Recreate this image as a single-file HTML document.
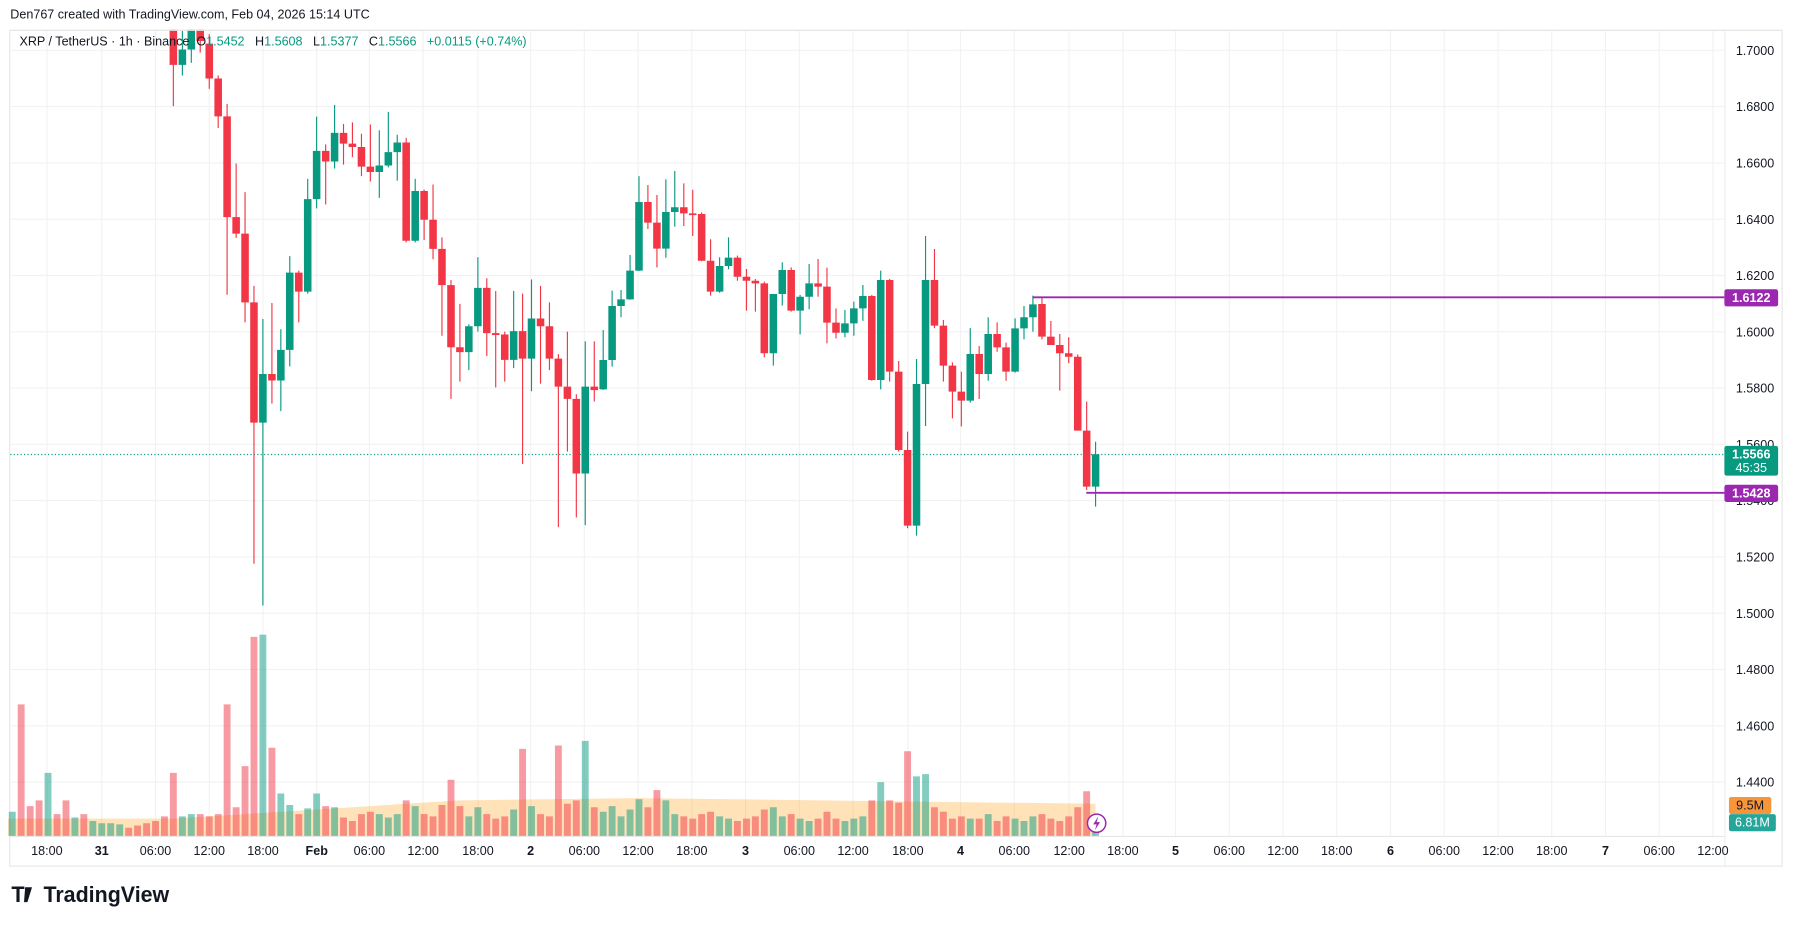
<!DOCTYPE html>
<html><head><meta charset="utf-8"><style>
html,body{margin:0;padding:0;background:#fff;}
svg{display:block;}
text{font-family:"Liberation Sans",sans-serif;}
</style></head><body>
<svg width="1793" height="925" viewBox="0 0 1568 809" preserveAspectRatio="none" xmlns="http://www.w3.org/2000/svg">
<rect x="0" y="0" width="1568" height="809" fill="#fff"/>
<rect x="8.5" y="26.5" width="1550" height="731" fill="none" stroke="#e6e6e6"/>
<g stroke="#f2f2f2">
<path d="M41,27V731M89,27V731M136,27V731M183,27V731M230,27V731M277,27V731M323,27V731M370,27V731M418,27V731M464,27V731M511,27V731M558,27V731M605,27V731M652,27V731M699,27V731M746,27V731M794,27V731M840,27V731M887,27V731M935,27V731M982,27V731M1028,27V731M1075,27V731M1122,27V731M1169,27V731M1216,27V731M1263,27V731M1310,27V731M1357,27V731M1404,27V731M1451,27V731M1498,27V731"/>
<path d="M9,44H1508M9,93.2H1508M9,142.5H1508M9,191.7H1508M9,240.9H1508M9,290.2H1508M9,339.4H1508M9,388.6H1508M9,437.8H1508M9,487.1H1508M9,536.3H1508M9,585.5H1508M9,634.8H1508M9,684H1508"/>
</g>
<line x1="1508.5" y1="27" x2="1508.5" y2="757" stroke="#eeeeee"/>
<g font-size="11" fill="#131722">
<text x="1518" y="48">1.7000</text><text x="1518" y="97.2">1.6800</text><text x="1518" y="146.5">1.6600</text><text x="1518" y="195.7">1.6400</text><text x="1518" y="244.9">1.6200</text><text x="1518" y="294.2">1.6000</text><text x="1518" y="343.4">1.5800</text><text x="1518" y="392.6">1.5600</text><text x="1518" y="441.8">1.5400</text><text x="1518" y="491.1">1.5200</text><text x="1518" y="540.3">1.5000</text><text x="1518" y="589.5">1.4800</text><text x="1518" y="638.8">1.4600</text><text x="1518" y="688">1.4400</text>
</g>
<g font-size="11" fill="#131722" text-anchor="middle">
<text x="41" y="748">18:00</text><text x="89" y="748" font-weight="bold">31</text><text x="136" y="748">06:00</text><text x="183" y="748">12:00</text><text x="230" y="748">18:00</text><text x="277" y="748" font-weight="bold">Feb</text><text x="323" y="748">06:00</text><text x="370" y="748">12:00</text><text x="418" y="748">18:00</text><text x="464" y="748" font-weight="bold">2</text><text x="511" y="748">06:00</text><text x="558" y="748">12:00</text><text x="605" y="748">18:00</text><text x="652" y="748" font-weight="bold">3</text><text x="699" y="748">06:00</text><text x="746" y="748">12:00</text><text x="794" y="748">18:00</text><text x="840" y="748" font-weight="bold">4</text><text x="887" y="748">06:00</text><text x="935" y="748">12:00</text><text x="982" y="748">18:00</text><text x="1028" y="748" font-weight="bold">5</text><text x="1075" y="748">06:00</text><text x="1122" y="748">12:00</text><text x="1169" y="748">18:00</text><text x="1216" y="748" font-weight="bold">6</text><text x="1263" y="748">06:00</text><text x="1310" y="748">12:00</text><text x="1357" y="748">18:00</text><text x="1404" y="748" font-weight="bold">7</text><text x="1451" y="748">06:00</text><text x="1498" y="748">12:00</text>
</g>
<line x1="9" y1="731.5" x2="1508" y2="731.5" stroke="#e6e6e6"/>
<!-- volume MA -->
<path d="M7,731V716L151.6,716L402,700L558,698L958,703V731Z" fill="rgba(255,152,0,0.28)"/>
<!-- volume bars -->
<path fill="#089981" fill-opacity="0.5" d="M7.7,710h6V731h-6zM39,676h6V731h-6zM62.5,715h6V731h-6zM78.2,718h6V731h-6zM86,720h6V731h-6zM93.8,720h6V731h-6zM101.7,721h6V731h-6zM156.5,714h6V731h-6zM164.3,712h6V731h-6zM226.9,555h6V731h-6zM242.6,694h6V731h-6zM250.4,704h6V731h-6zM266.1,707h6V731h-6zM273.9,694h6V731h-6zM289.6,706h6V731h-6zM328.7,712h6V731h-6zM336.6,715h6V731h-6zM344.4,712h6V731h-6zM360.1,705h6V731h-6zM407,714h6V731h-6zM414.9,706h6V731h-6zM446.2,708h6V731h-6zM461.8,705h6V731h-6zM508.8,648h6V731h-6zM524.5,710h6V731h-6zM532.3,705h6V731h-6zM540.1,714h6V731h-6zM548,708h6V731h-6zM555.8,699h6V731h-6zM579.3,700h6V731h-6zM587.1,712h6V731h-6zM626.3,714h6V731h-6zM634.1,716h6V731h-6zM673.3,706h6V731h-6zM681.1,714h6V731h-6zM696.7,716h6V731h-6zM704.6,718h6V731h-6zM735.9,718h6V731h-6zM743.7,716h6V731h-6zM751.6,714h6V731h-6zM767.2,684h6V731h-6zM798.5,679h6V731h-6zM806.4,677h6V731h-6zM845.5,716h6V731h-6zM861.2,712h6V731h-6zM884.7,716h6V731h-6zM892.5,718h6V731h-6zM900.3,714h6V731h-6zM955.1,714h6V731h-6z"/>
<path fill="#f23645" fill-opacity="0.5" d="M15.5,616h6V731h-6zM23.4,705h6V731h-6zM31.2,700h6V731h-6zM46.9,712h6V731h-6zM54.7,700h6V731h-6zM70.3,712h6V731h-6zM109.5,724h6V731h-6zM117.3,722h6V731h-6zM125.2,720h6V731h-6zM133,718h6V731h-6zM140.8,714h6V731h-6zM148.6,676h6V731h-6zM172.1,712h6V731h-6zM180,714h6V731h-6zM187.8,712h6V731h-6zM195.6,616h6V731h-6zM203.5,706h6V731h-6zM211.3,670h6V731h-6zM219.1,557h6V731h-6zM234.8,654h6V731h-6zM258.3,712h6V731h-6zM281.8,705h6V731h-6zM297.4,715h6V731h-6zM305.2,718h6V731h-6zM313.1,712h6V731h-6zM320.9,710h6V731h-6zM352.2,700h6V731h-6zM367.9,712h6V731h-6zM375.7,714h6V731h-6zM383.5,704h6V731h-6zM391.4,682h6V731h-6zM399.2,705h6V731h-6zM422.7,712h6V731h-6zM430.5,716h6V731h-6zM438.4,714h6V731h-6zM454,655h6V731h-6zM469.7,712h6V731h-6zM477.5,714h6V731h-6zM485.3,652h6V731h-6zM493.2,703h6V731h-6zM501,700h6V731h-6zM516.7,706h6V731h-6zM563.6,706h6V731h-6zM571.5,691h6V731h-6zM595,714h6V731h-6zM602.8,716h6V731h-6zM610.6,712h6V731h-6zM618.4,710h6V731h-6zM641.9,718h6V731h-6zM649.8,716h6V731h-6zM657.6,714h6V731h-6zM665.4,708h6V731h-6zM688.9,712h6V731h-6zM712.4,716h6V731h-6zM720.2,710h6V731h-6zM728.1,716h6V731h-6zM759.4,700h6V731h-6zM775,700h6V731h-6zM782.9,702h6V731h-6zM790.7,657h6V731h-6zM814.2,706h6V731h-6zM822,710h6V731h-6zM829.9,716h6V731h-6zM837.7,714h6V731h-6zM853.3,716h6V731h-6zM869,718h6V731h-6zM876.8,714h6V731h-6zM908.2,712h6V731h-6zM916,716h6V731h-6zM923.8,718h6V731h-6zM931.6,714h6V731h-6zM939.5,706h6V731h-6zM947.3,692h6V731h-6z"/>
<line x1="9" y1="397.5" x2="1508" y2="397.5" stroke="#089981" stroke-dasharray="1,2"/>
<!-- wicks -->
<path stroke="#089981" stroke-width="1" fill="none" d="M159.5,26.9V66M167.3,20V55M229.9,279V529.6M245.6,288V359.6M253.4,224V320.4M269.1,156.4V256.8M276.9,102V182.2M292.6,91.8V147.4M331.7,113.9V173.1M339.6,97.8V146.4M347.4,117.9V158M363.1,156.4V212M410,283.6V323.7M417.9,225V290M449.2,254.5V322M464.8,244.4V342.2M511.8,298.6V459.3M527.5,288.6V341M535.3,254.2V320.7M543.1,253.6V277.5M551,223V262M558.8,154V237M582.3,156.9V225.4M590.1,149.6V198.2M629.3,225V256M637.1,207.6V235.5M676.3,257V319.8M684.1,229.4V267.3M699.7,258V292.4M707.6,230.9V270.5M738.9,271.1V295M746.7,263.8V293.6M754.6,249.3V280.5M770.2,236.7V340.5M801.5,314V468.5M809.4,206.4V372.6M848.5,287V352M864.2,277.5V333M887.7,278.4V325.9M895.5,267.6V296.8M903.3,258.6V290.1M958.1,386.3V443.1"/>
<path stroke="#f23645" stroke-width="1" fill="none" d="M151.6,10V92.8M175.1,18V46M183,30V77.7M190.8,66V111.9M198.6,91V257.8M206.5,143V208M214.3,168V282M222.1,250V493M237.8,265V353M261.3,236.7V282M284.8,126.3V178.8M300.4,108.5V144M308.2,107V137.3M316.1,117V154M323.9,108.9V158.7M355.2,120.6V212M370.9,165.8V210M378.7,161.4V226.7M386.5,207.6V293.6M394.4,245V348.9M402.2,265.8V333.8M425.7,243.4V311.4M433.5,254.5V338.8M441.4,290V333.8M457,256.8V405.8M472.7,250V335.5M480.5,264.5V323.7M488.3,309.7V461M496.2,290V395M504,344.8V452.6M519.7,298.6V351.2M566.6,161.8V200.3M574.5,170.6V233.8M598,160.4V197.7M605.8,166V206.4M613.6,185.7V228.5M621.4,209.3V258.6M644.9,223.6V245.5M652.8,235.3V271.7M660.6,244V272.6M668.4,246.3V312.5M691.9,233.8V272.6M715.4,226.5V259.5M723.2,234.1V300.3M731.1,269.7V295.9M762.4,258V333M778,244V333.8M785.9,315.7V395M793.7,377.5V462M817.2,217.8V287M825,279.9V333.8M832.9,316.9V365.9M840.7,325V373M856.3,302.6V349M872,281.9V307.6M879.8,299.7V333M911.2,259.4V296.8M919,280.7V301.7M926.8,292.1V341.6M934.6,295V317.7M942.5,309.9V376.6M950.3,351.3V428.5"/>
<!-- bodies -->
<path fill="#089981" d="M156.2,43.3h6.6V56.7h-6.6zM164,25.9h6.6V43.3h-6.6zM226.6,327.1h6.6V369.6h-6.6zM242.3,306h6.6V332.8h-6.6zM250.1,238.4h6.6V306h-6.6zM265.8,174.1h6.6V255.1h-6.6zM273.6,132h6.6V174.1h-6.6zM289.3,116.2h6.6V141.3h-6.6zM328.4,144.7h6.6V150.4h-6.6zM336.3,133h6.6V144.7h-6.6zM344.1,124.6h6.6V133h-6.6zM359.8,167.1h6.6V210.6h-6.6zM406.7,285.3h6.6V308h-6.6zM414.6,251.8h6.6V285.3h-6.6zM445.9,289.6h6.6V314.7h-6.6zM461.5,278.6h6.6V313.7h-6.6zM508.5,338.1h6.6V414.1h-6.6zM524.2,314.8h6.6V340.5h-6.6zM532,267.6h6.6V314.8h-6.6zM539.8,261.8h6.6V267.6h-6.6zM547.7,236.7h6.6V261.8h-6.6zM555.5,176.7h6.6V236.7h-6.6zM579,185.4h6.6V217.5h-6.6zM586.8,181.3h6.6V185.4h-6.6zM626,232.6h6.6V255.1h-6.6zM633.8,225.3h6.6V232.6h-6.6zM673,257.1h6.6V309h-6.6zM680.8,236.1h6.6V257.1h-6.6zM696.4,259.5h6.6V271.7h-6.6zM704.3,247.8h6.6V259.5h-6.6zM735.6,282.8h6.6V291h-6.6zM743.4,269.7h6.6V282.8h-6.6zM751.3,258.9h6.6V269.7h-6.6zM766.9,244.9h6.6V332.3h-6.6zM798.2,335.8h6.6V459.7h-6.6zM806.1,244.9h6.6V335.8h-6.6zM845.2,309.6h6.6V350.4h-6.6zM860.9,292.1h6.6V327.1h-6.6zM884.4,287.2h6.6V325h-6.6zM892.2,277.5h6.6V287.2h-6.6zM900,266.2h6.6V277.5h-6.6zM954.8,397.3h6.6V425.6h-6.6z"/>
<path fill="#f23645" d="M148.3,24h6.6V56.7h-6.6zM171.8,25.9h6.6V35.9h-6.6zM179.7,38.2h6.6V68.7h-6.6zM187.5,68.7h6.6V101.8h-6.6zM195.3,101.8h6.6V189.9h-6.6zM203.2,189.9h6.6V204.3h-6.6zM211,204.3h6.6V264.5h-6.6zM218.8,264.5h6.6V369.6h-6.6zM234.5,327.1h6.6V332.8h-6.6zM258,238.4h6.6V255.1h-6.6zM281.5,132h6.6V141.3h-6.6zM297.1,116.2h6.6V125.6h-6.6zM304.9,125.6h6.6V128.6h-6.6zM312.8,128.6h6.6V145.7h-6.6zM320.6,145.7h6.6V150.4h-6.6zM351.9,124.6h6.6V210.6h-6.6zM367.6,167.1h6.6V192.2h-6.6zM375.4,192.2h6.6V217.7h-6.6zM383.2,217.7h6.6V249.4h-6.6zM391.1,249.4h6.6V303.7h-6.6zM398.9,303.7h6.6V308h-6.6zM422.4,251.8h6.6V291.3h-6.6zM430.2,291.3h6.6V293h-6.6zM438.1,292.6h6.6V314.7h-6.6zM453.7,289.6h6.6V313.7h-6.6zM469.4,278.6h6.6V285.3h-6.6zM477.2,285.3h6.6V313.7h-6.6zM485,313.7h6.6V338.1h-6.6zM492.9,338.1h6.6V348.9h-6.6zM500.7,348.9h6.6V414.1h-6.6zM516.4,338.1h6.6V341.2h-6.6zM563.3,176.7h6.6V194.7h-6.6zM571.2,194.7h6.6V217.5h-6.6zM594.7,181.3h6.6V186.6h-6.6zM602.5,186.6h6.6V188.2h-6.6zM610.3,187.2h6.6V228h-6.6zM618.1,228h6.6V255.1h-6.6zM641.6,225.3h6.6V242h-6.6zM649.5,242h6.6V245.5h-6.6zM657.3,245.5h6.6V247.8h-6.6zM665.1,247.8h6.6V309h-6.6zM688.6,236.1h6.6V271.7h-6.6zM712.1,247.8h6.6V250.7h-6.6zM719.9,250.7h6.6V282.2h-6.6zM727.8,282.2h6.6V291h-6.6zM759.1,258.9h6.6V332.3h-6.6zM774.7,244.9h6.6V325h-6.6zM782.6,325h6.6V393.6h-6.6zM790.4,393.6h6.6V459.7h-6.6zM813.9,244.9h6.6V284.8h-6.6zM821.7,284.8h6.6V319.8h-6.6zM829.6,319.8h6.6V342.5h-6.6zM837.4,342.5h6.6V350.4h-6.6zM853,309.6h6.6V327.1h-6.6zM868.7,292.1h6.6V303.8h-6.6zM876.5,303.8h6.6V325h-6.6zM907.9,265.9h6.6V294.4h-6.6zM915.7,294.4h6.6V301.7h-6.6zM923.5,301.7h6.6V309h-6.6zM931.3,309h6.6V312h-6.6zM939.2,312h6.6V376.6h-6.6zM947,376.6h6.6V425.6h-6.6z"/>
<line x1="903" y1="260" x2="1508" y2="260" stroke="#9c27b0" stroke-width="1.6"/>
<line x1="950" y1="431" x2="1508" y2="431" stroke="#9c27b0" stroke-width="1.6"/>
<!-- header -->
<rect x="0" y="0" width="1568" height="26" fill="#fff"/>
<text x="9" y="16" font-size="11" fill="#131722">Den767 created with TradingView.com, Feb 04, 2026 15:14 UTC</text>
<line x1="9" y1="26.5" x2="1558" y2="26.5" stroke="#e6e6e6"/>
<text x="17" y="40" font-size="11" fill="#131722" xml:space="preserve">XRP / TetherUS · 1h · Binance  O<tspan fill="#089981">1.5452</tspan>   H<tspan fill="#089981">1.5608</tspan>   L<tspan fill="#089981">1.5377</tspan>   C<tspan fill="#089981">1.5566</tspan>   <tspan fill="#089981">+0.0115 (+0.74%)</tspan></text>
<!-- axis labels -->
<rect x="1508" y="253" width="47" height="15" rx="2" fill="#9c27b0"/><text x="1531.5" y="264" font-size="11" font-weight="bold" fill="#fff" text-anchor="middle">1.6122</text>
<rect x="1508" y="390" width="47" height="26" rx="2" fill="#089981"/><text x="1531.5" y="401" font-size="11" font-weight="bold" fill="#fff" text-anchor="middle">1.5566</text><text x="1531.5" y="413" font-size="11" fill="#fff" text-anchor="middle">45:35</text>
<rect x="1508" y="424" width="47" height="15" rx="2" fill="#9c27b0"/><text x="1531.5" y="435" font-size="11" font-weight="bold" fill="#fff" text-anchor="middle">1.5428</text>
<rect x="1512" y="697" width="37" height="15" rx="2" fill="#f7953b"/><text x="1530.5" y="708" font-size="11" fill="#131722" text-anchor="middle">9.5M</text>
<rect x="1512" y="712" width="41" height="15" rx="2" fill="#26a69a"/><text x="1532.5" y="723" font-size="11" fill="#fff" text-anchor="middle">6.81M</text>
<circle cx="959" cy="720" r="8" fill="#fff" stroke="#9c27b0" stroke-width="1.3"/><path d="M960.5,714 L956,721 L959,721 L957.5,726 L962,719 L959,719 Z" fill="#9c27b0"/>
<!-- footer -->
<text x="10" y="789" font-size="19" font-weight="bold" fill="#131722">T</text>
<path d="M22,776h6l-4,13h-3z" fill="#131722"/>
<text x="38" y="789" font-size="19" font-weight="bold" fill="#131722" textLength="110" lengthAdjust="spacingAndGlyphs">TradingView</text>
</svg>
</body></html>
